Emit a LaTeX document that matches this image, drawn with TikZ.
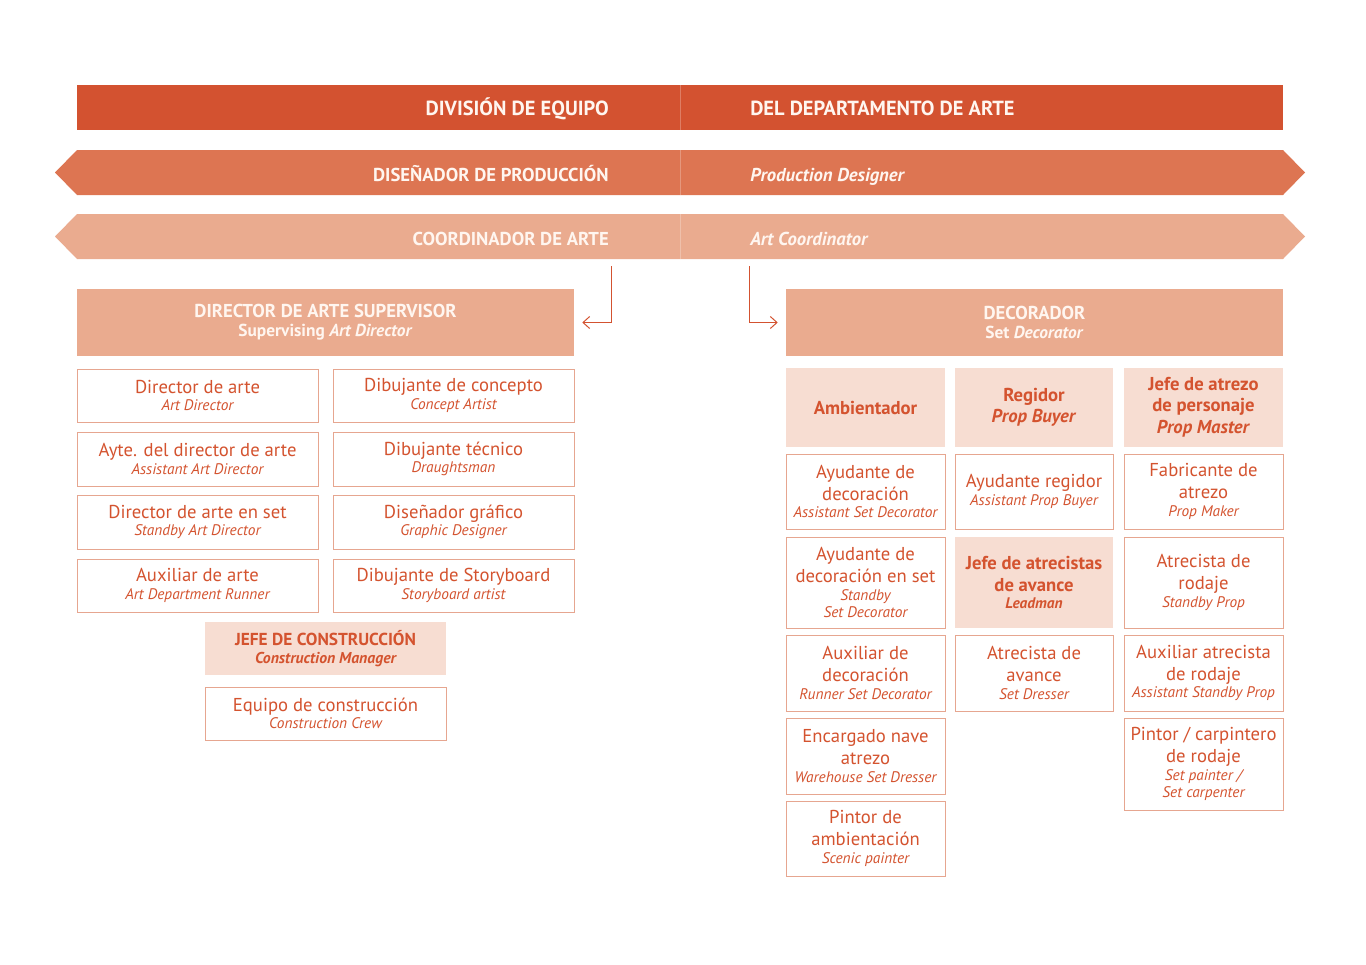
\documentclass[tikz,border=0pt]{standalone}
\usepackage{fontspec}
\setmainfont{PT Sans}
\usetikzlibrary{arrows.meta}
\definecolor{cDark}{HTML}{D35230}
\definecolor{cMid}{HTML}{DD7552}
\definecolor{cLight}{HTML}{EAAB8F}
\definecolor{cPale}{HTML}{F7DDD2}
\definecolor{cText}{HTML}{D4532F}
\definecolor{cBorder}{HTML}{E6A690}
\definecolor{cWhite}{HTML}{FFF6F0}
\newcommand\subt[1]{{\fontsize{11.5}{12}\selectfont\itshape #1}}
\newcommand\cellbox[7]{\node[#6, minimum width={(#4-#2)*0.75pt}, minimum height={(#5-#3)*0.75pt}] (#1) at ({(#2+#4)/2},{(#3+#5)/2}) {#7};}
\tikzset{
  cell/.style={draw=cBorder, line width=0.75pt, fill=white, inner sep=0pt, align=center, text=cText, font=\fontsize{14}{13}\selectfont},
  filled/.style={cell, draw=none, fill=cPale, font=\fontsize{14}{13}\selectfont\bfseries},
  head/.style={draw=none, fill=cLight, inner sep=0pt, align=center, text=cWhite, font=\fontsize{14}{14.5}\selectfont\bfseries},
  bantext/.style={text=cWhite, inner sep=0pt, font=\fontsize{15.3}{16}\selectfont\bfseries},
  bantextb/.style={text=cWhite, inner sep=0pt, font=\fontsize{14}{16}\selectfont\bfseries},
  conn/.style={draw=cDark, line width=0.75pt, -{Straight Barb[length=5pt,width=9pt]}, shorten >=6pt}
}
\begin{document}
\begin{tikzpicture}[x=0.75pt,y=-0.75pt]
\useasboundingbox (0,0) rectangle (1366,964);
% banners
\fill[cDark] (77,85) rectangle (1283,130);
\draw[cDark!75!white, line width=0.75pt] (680,85) -- (680,130);
\fill[cMid] (55,172.5) -- (77,150) -- (1283,150) -- (1305,172.5) -- (1283,195) -- (77,195) -- cycle;
\draw[cMid!75!white, line width=0.75pt] (680,150) -- (680,195);
\fill[cLight] (55,236.5) -- (77,214) -- (1283,214) -- (1305,236.5) -- (1283,259) -- (77,259) -- cycle;
\draw[cLight!75!white, line width=0.75pt] (680,214) -- (680,259);
\node[bantext, anchor=base east] (b1l) at (609,115) {DIVISIÓN DE EQUIPO};
\node[bantext, anchor=base west] (b1r) at (750,115) {DEL DEPARTAMENTO DE ARTE};
\node[bantextb, anchor=base east] (b2l) at (609,181) {DISEÑADOR DE PRODUCCIÓN};
\node[bantextb, anchor=base west] (b2r) at (750,181) {\itshape Production Designer};
\node[bantextb, anchor=base east] (b3l) at (609,245) {COORDINADOR DE ARTE};
\node[bantextb, anchor=base west] (b3r) at (750,245) {\itshape Art Coordinator};
% headers
\cellbox{sup}{77}{289}{574}{356}{head}{DIRECTOR DE ARTE SUPERVISOR\\{\fontsize{13}{12}\selectfont Supervising \textit{Art Director}}}
\cellbox{deco}{786}{289}{1283}{356}{head}{DECORADOR\\{\fontsize{13}{12}\selectfont Set \textit{Decorator}}}
% arrows
\coordinate (a1) at (611,266);
\coordinate (a2) at (749,266);
\draw[conn] (a1) |- (sup.east);
\draw[conn] (a2) |- (deco.west);
% left grid
\cellbox{l11}{77}{369}{318}{422}{cell}{Director de arte\\\subt{Art Director}}
\cellbox{l12}{333}{369}{574}{422}{cell}{Dibujante de concepto\\\subt{Concept Artist}}
\cellbox{l21}{77}{432}{318}{486}{cell}{Ayte. del director de arte\\\subt{Assistant Art Director}}
\cellbox{l22}{333}{432}{574}{486}{cell}{Dibujante técnico\\\subt{Draughtsman}}
\cellbox{l31}{77}{495}{318}{549}{cell}{Director de arte en set\\\subt{Standby Art Director}}
\cellbox{l32}{333}{495}{574}{549}{cell}{Diseñador gráfico\\\subt{Graphic Designer}}
\cellbox{l41}{77}{559}{318}{612}{cell}{Auxiliar de arte\\\subt{Art Department Runner}}
\cellbox{l42}{333}{559}{574}{612}{cell}{Dibujante de Storyboard\\\subt{Storyboard artist}}
\cellbox{jefe}{205}{622}{446}{675}{filled}{{\fontsize{13}{13}\selectfont JEFE DE CONSTRUCCIÓN}\\{\fontsize{11.8}{12}\selectfont\itshape Construction Manager}}
\cellbox{equipo}{205}{687}{446}{740}{cell}{Equipo de construcción\\\subt{Construction Crew}}
% right grid
\cellbox{r11}{786}{368}{945}{447}{filled}{Ambientador}
\cellbox{r12}{955}{368}{1113}{447}{filled}{Regidor\\[3pt]\textit{Prop Buyer}}
\cellbox{r13}{1124}{368}{1283}{447}{filled}{Jefe de atrezo\\[3pt]de personaje\\[3.5pt]\textit{Prop Master}}
\cellbox{r21}{786}{454}{945}{529}{cell}{Ayudante de\\[3.5pt]decoración\\\subt{Assistant Set Decorator}}
\cellbox{r22}{955}{454}{1113}{529}{cell}{Ayudante regidor\\\subt{Assistant Prop Buyer}}
\cellbox{r23}{1124}{454}{1283}{529}{cell}{Fabricante de\\[3.5pt]atrezo\\\subt{Prop Maker}}
\cellbox{r31}{786}{537}{945}{628}{cell}{Ayudante de\\[3.5pt]decoración en set\\\subt{Standby}\\\subt{Set Decorator}}
\cellbox{r32}{955}{537}{1113}{628}{filled}{Jefe de atrecistas\\[3.5pt]de avance\\{\fontsize{11.5}{12}\selectfont\itshape Leadman}}
\cellbox{r33}{1124}{537}{1283}{628}{cell}{Atrecista de\\[3.5pt]rodaje\\\subt{Standby Prop}}
\cellbox{r41}{786}{635}{945}{711}{cell}{Auxiliar de\\[3.5pt]decoración\\\subt{Runner Set Decorator}}
\cellbox{r42}{955}{635}{1113}{711}{cell}{Atrecista de\\[3.5pt]avance\\\subt{Set Dresser}}
\cellbox{r43}{1124}{635}{1283}{711}{cell}{Auxiliar atrecista\\[3.5pt]de rodaje\\\subt{Assistant Standby Prop}}
\cellbox{r51}{786}{718}{945}{794}{cell}{Encargado nave\\[3.5pt]atrezo\\\subt{Warehouse Set Dresser}}
\cellbox{r53}{1124}{718}{1283}{810}{cell}{Pintor / carpintero\\[3.5pt]de rodaje\\\subt{Set painter /}\\\subt{Set carpenter}}
\cellbox{r61}{786}{801}{945}{876}{cell}{Pintor de\\[3.5pt]ambientación\\\subt{Scenic painter}}
\end{tikzpicture}
\end{document}
